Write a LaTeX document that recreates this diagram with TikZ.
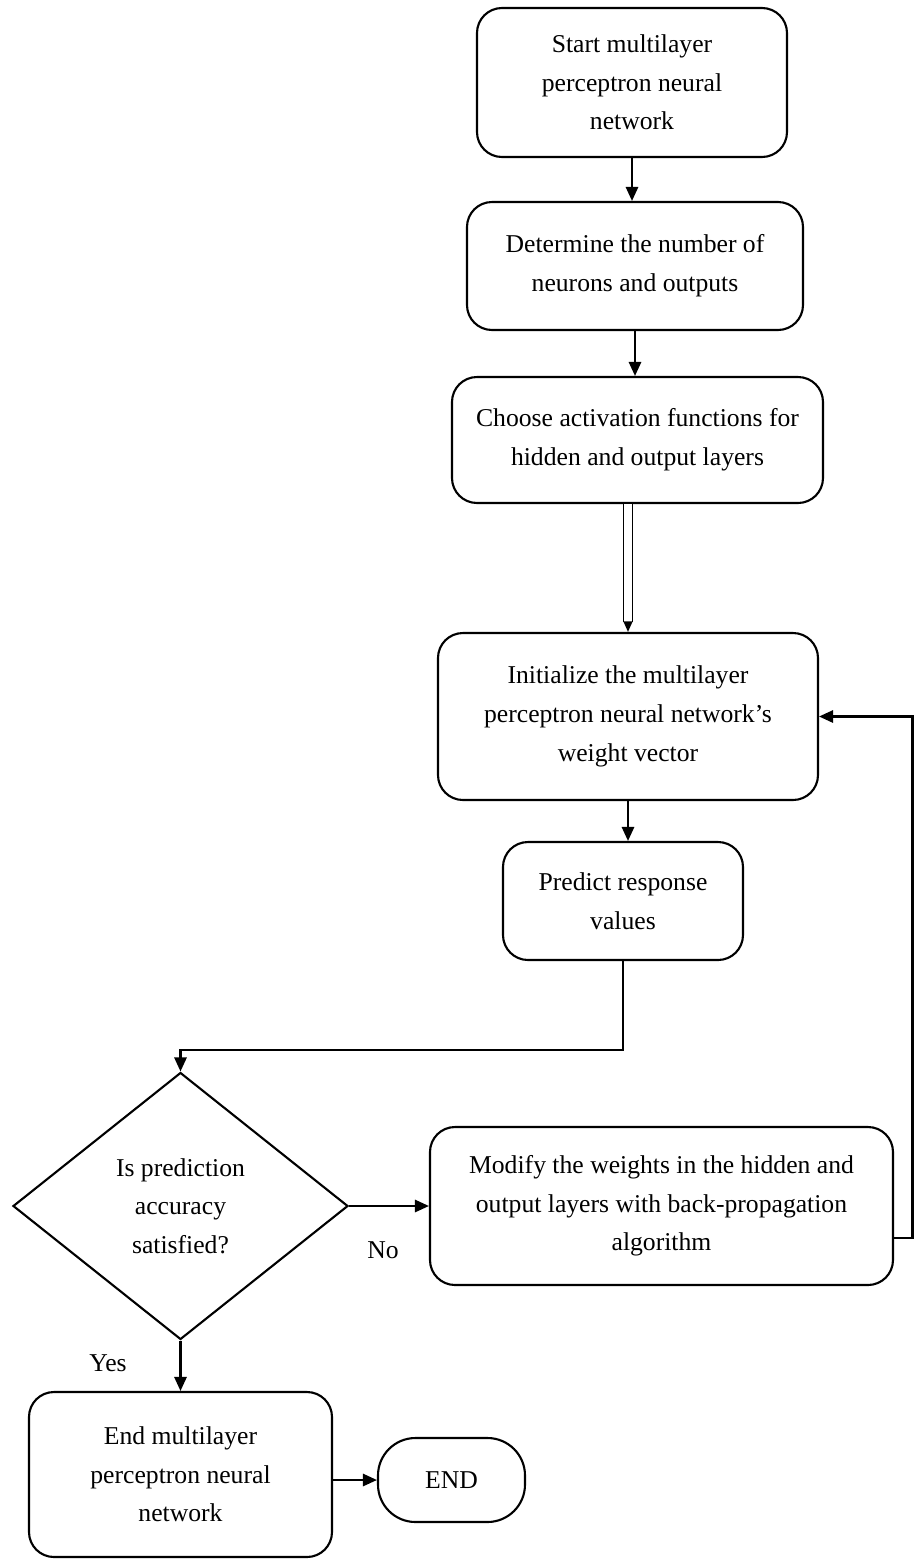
\documentclass[tikz,border=0pt]{standalone}
\usepackage{fontspec}
\setmainfont{Liberation Serif}
\usepackage{tikz}
\usetikzlibrary{arrows.meta, positioning, calc, shapes.geometric}

\begin{document}
\begin{tikzpicture}[
    font=\fontsize{14.6}{22}\selectfont,
    line width=1.2pt,
    procbox/.style={draw, rounded corners=0.5cm, align=center, inner sep=0pt},
    decision/.style={draw, diamond, align=center, inner sep=0pt, minimum width=6.7cm, minimum height=5.34cm},
    terminal/.style={draw, rounded corners=0.75cm, align=center, inner sep=0pt},
    arr/.style={-{Triangle[length=8pt,width=7pt]}},
    fatarr/.style={double, double distance=4pt, line width=1pt, -{Triangle[length=6pt,width=5pt]}}]
  \useasboundingbox (0,0) rectangle (18.28,-31.22);
  % Main column
  \node[procbox, minimum width=6.2cm, minimum height=2.98cm] (start) at (12.64,-1.65)
    {Start multilayer\\perceptron neural\\network};
  \node[procbox, minimum width=6.72cm, minimum height=2.56cm] (neurons) at (12.7,-5.32)
    {Determine the number of\\neurons and outputs};
  \node[procbox, minimum width=7.42cm, minimum height=2.52cm] (activation) at (12.75,-8.8)
    {Choose activation functions for\\hidden and output layers};
  \node[procbox, minimum width=7.6cm, minimum height=3.34cm] (init) at (12.56,-14.33)
    {Initialize the multilayer\\perceptron neural network's\\weight vector};
  \node[procbox, minimum width=4.8cm, minimum height=2.36cm] (predict) at (12.46,-18.02)
    {Predict response\\values};
  % Decision and update
  \node[decision] (decide) at (3.61,-24.12)
    {Is prediction\\accuracy\\satisfied?};
  \node[procbox, minimum width=9.26cm, minimum height=3.16cm] (modify) at (13.23,-24.12)
    {Modify the weights in the hidden and\\output layers with back-propagation\\algorithm};
  \node (no) at (7.66,-25.0) {No};
  \node (yes) at (2.16,-27.26) {Yes};
  % End
  \node[procbox, minimum width=6.06cm, minimum height=3.3cm] (endnet) at (3.61,-29.49)
    {End multilayer\\perceptron neural\\network};
  \node[terminal, minimum width=2.94cm, minimum height=1.68cm] (stop) at (9.03,-29.6) {END};
  \coordinate (back) at (18.25,-24.76);
  % Connectors
  \draw[arr] (start.south) -- (start.south |- neurons.north);
  \draw[arr] (neurons.south) -- (neurons.south |- activation.north);
  \draw[fatarr] (init.north |- activation.south) -- (init.north);
  \draw[arr] (init.south) -- (init.south |- predict.north);
  \draw[arr] (predict.south) -- ++(0,-1.78) -| (decide.north);
  \draw[arr] (decide.east) -- (modify.west);
  \draw[arr] (decide.south) -- (endnet.north);
  \draw[arr] (endnet.east |- stop.west) -- (stop.west);
  \draw[arr] (modify.east |- back) -- (back) |- (init.east);
\end{tikzpicture}
\end{document}
